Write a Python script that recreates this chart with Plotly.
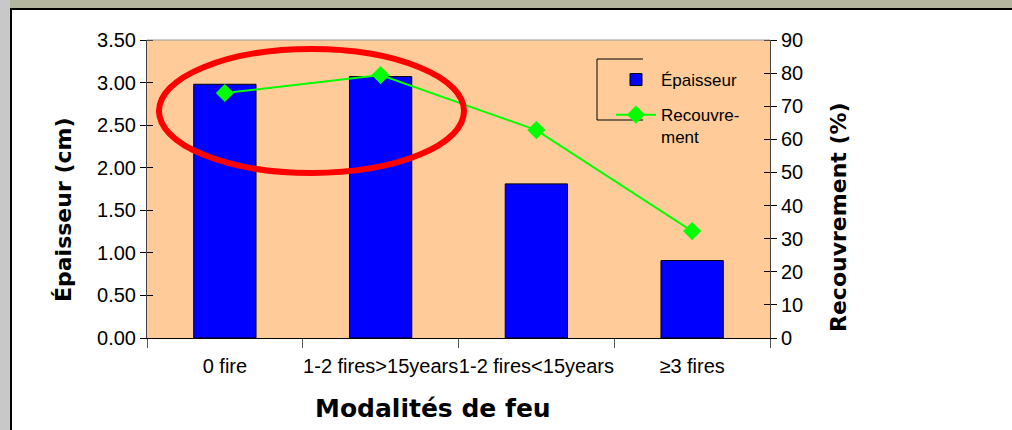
import plotly.graph_objects as go

# données
modalites = ['0 fire', '1-2 fires>15years', '1-2 fires<15years', '≥3 fires']
epaisseur = [2.98, 3.07, 1.81, 0.91]
recouvrement = [74.0, 79.4, 62.8, 32.3]

ticks_gauche = [0, 0.5, 1, 1.5, 2, 2.5, 3, 3.5]
ticks_droite = list(range(0, 100, 10))

# géométrie du cadre (pixels)
W, H = 1012, 430
L, R, T, B = 147, 242, 40, 92
pw, ph = W - L - R, H - T - B


def px(x):
    return (x - L) / pw


def py(y):
    return (H - B - y) / ph


fig = go.Figure()
fig.add_trace(go.Bar(x=modalites, y=epaisseur, name='Épaisseur', legendgroup='a',
                     marker=dict(color='#0000FF', line=dict(color='#000000', width=1)),
                     width=0.4))
fig.add_trace(go.Scatter(x=modalites, y=recouvrement, name='Recouvre-<br>ment',
                         legendgroup='b', yaxis='y2', mode='lines+markers',
                         line=dict(color='#00FF00', width=2),
                         marker=dict(symbol='diamond', size=14, color='#00FF00')))

arial = 'Liberation Sans, Arial'
tick_font = dict(family=arial, size=20, color='#000000')
comic = 'Comic Sans MS, DejaVu Sans'

# repères intérieurs, décalés d'un epsilon pour ne pas être fusionnés avec les principaux
eps = 1e-6
fig.update_layout(
    width=W, height=H,
    margin=dict(l=L, r=R, t=T, b=B),
    paper_bgcolor='white',
    plot_bgcolor='#FFCC99',
    showlegend=True,
    legend=dict(x=px(611), y=py(62), xanchor='left', yanchor='top',
                bgcolor='rgba(0,0,0,0)', borderwidth=0, valign='top',
                font=dict(family=arial, size=17, color='#000000'),
                itemwidth=40, tracegroupgap=10),
    xaxis=dict(type='category', showgrid=False, showline=True, linecolor='#000000',
               linewidth=1, ticks='outside', tickson='boundaries', ticklen=9,
               tickcolor='#555555', tickangle=0, ticklabelstandoff=10,
               tickfont=dict(family=arial, size=20, color='#000000')),
    yaxis=dict(range=[0, 3.5], tickvals=ticks_gauche, tickformat='.2f',
               showgrid=False, zeroline=False, showline=True, linecolor='#444444',
               ticks='outside', ticklen=6, tickcolor='#000000', tickfont=tick_font,
               minor=dict(tickmode='array', tickvals=[v + eps for v in ticks_gauche],
                          ticks='inside', ticklen=6, tickcolor='#000000')),
    yaxis2=dict(range=[0, 90], tickvals=ticks_droite, overlaying='y', side='right',
                showgrid=False, zeroline=False, showline=True, linecolor='#444444',
                ticks='outside', ticklen=6, tickcolor='#000000', tickfont=tick_font,
                minor=dict(tickmode='array', tickvals=[v + eps for v in ticks_droite],
                           ticks='inside', ticklen=6, tickcolor='#000000')),
)

# titres des axes (placés comme dans l'original, un peu décentrés)
titre_kw = dict(xref='paper', yref='paper', showarrow=False,
                xanchor='center', yanchor='middle')
fig.add_annotation(text='<b>Modalités de feu</b>', x=px(433), y=py(408),
                   font=dict(family=comic, size=25, color='#000000'), **titre_kw)
fig.add_annotation(text='<b>Épaisseur (cm)</b>', x=px(63), y=py(210), textangle=-90,
                   font=dict(family=comic, size=22, color='#000000'), **titre_kw)
fig.add_annotation(text='<b>Recouvrement (%)</b>', x=px(838), y=py(217), textangle=-90,
                   font=dict(family=comic, size=22, color='#000000'), **titre_kw)

shapes = [
    # fond gris de la fenêtre
    dict(type='rect', xref='paper', yref='paper', x0=px(0), x1=px(W), y0=py(0), y1=py(8),
         fillcolor='#B4B6A0', line=dict(width=0), layer='below'),
    dict(type='rect', xref='paper', yref='paper', x0=px(0), x1=px(10), y0=py(0), y1=py(H),
         fillcolor='#C8C8C8', line=dict(width=0), layer='below'),
    dict(type='line', xref='paper', yref='paper', x0=px(10), x1=px(W), y0=py(9), y1=py(9),
         line=dict(color='#000000', width=2)),
    dict(type='line', xref='paper', yref='paper', x0=px(11), x1=px(11), y0=py(9), y1=py(H),
         line=dict(color='#000000', width=2)),
    # bord supérieur de la zone de tracé
    dict(type='line', xref='paper', yref='paper', x0=0, x1=1, y0=1, y1=1,
         line=dict(color='#999999', width=1)),
    # cadre partiel de la légende
    dict(type='path', xref='paper', yref='paper',
         path=f'M {px(643)} {py(59)} L {px(597)} {py(59)} L {px(597)} {py(120)} L {px(643)} {py(120)}',
         line=dict(color='#000000', width=1)),
    # ellipse rouge
    dict(type='circle', xref='paper', yref='paper', x0=px(159), x1=px(464), y0=py(173), y1=py(49),
         line=dict(color='#FF0000', width=6)),
]
fig.update_layout(shapes=shapes)

fig.write_html("out.html", config={'displayModeBar': False},
               post_script="document.body.style.margin='0';")
